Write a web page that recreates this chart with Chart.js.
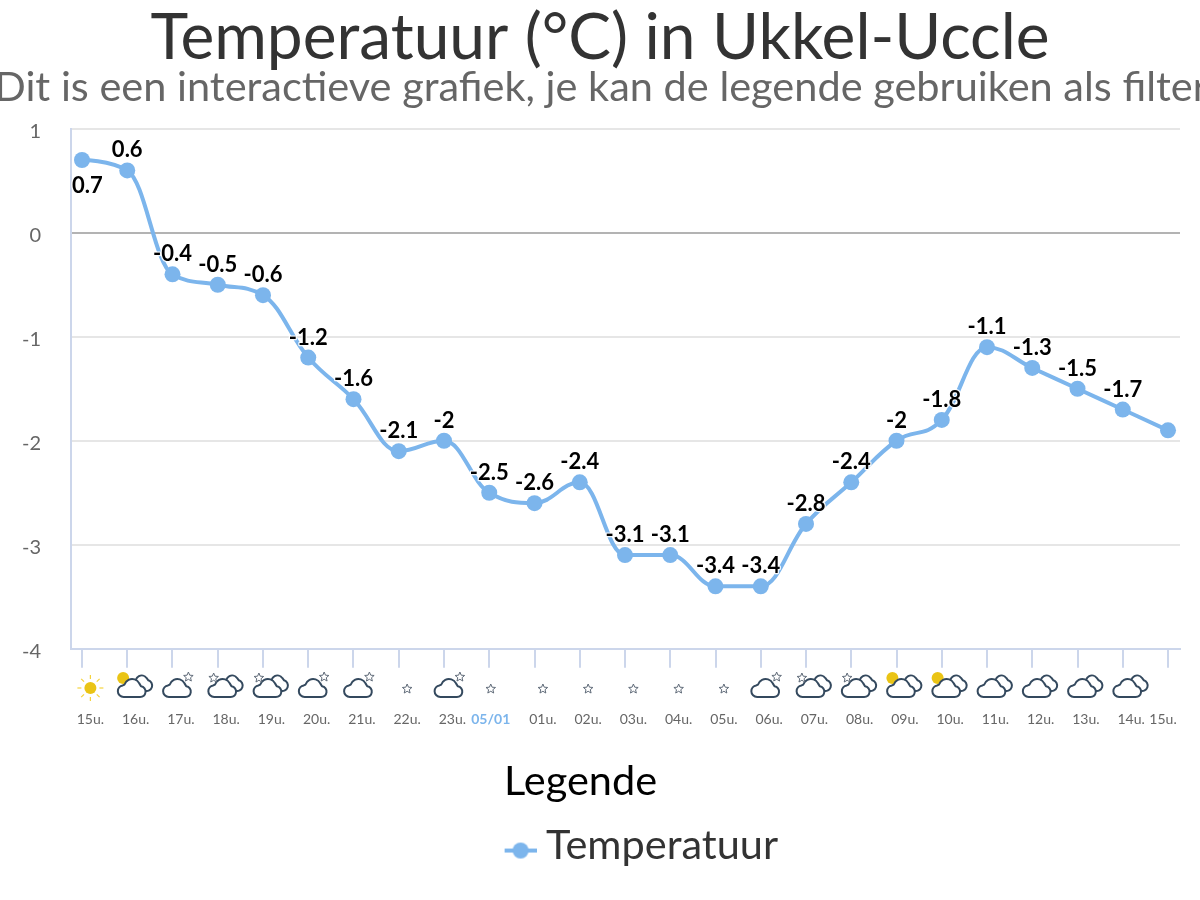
<!DOCTYPE html>
<html><head><meta charset="utf-8">
<style>html,body{margin:0;padding:0;background:#fff}canvas{display:block}</style>
<script src="https://cdn.jsdelivr.net/npm/chart.js@4"></script>
</head><body><canvas id="c" width="1200" height="900"></canvas>
<script>
const hours = ["15u.","16u.","17u.","18u.","19u.","20u.","21u.","22u.","23u.","05/01","01u.","02u.","03u.","04u.","05u.","06u.","07u.","08u.","09u.","10u.","11u.","12u.","13u.","14u.","15u."];
const temps = [0.7,0.6,-0.4,-0.5,-0.6,-1.2,-1.6,-2.1,-2,-2.5,-2.6,-2.4,-3.1,-3.1,-3.4,-3.4,-2.8,-2.4,-2,-1.8,-1.1,-1.3,-1.5,-1.7,-1.9];
const weather = ["zon","zonwolken","wolkster","sterwolken","sterwolken","wolkster","wolkster","ster","wolkster","ster","ster","ster","ster","ster","ster","wolkster","sterwolken","sterwolken","zonwolken","zonwolken","wolken","wolken","wolken","wolken",""];
const yTicks = [1,0,-1,-2,-3,-4];
const titleText = "Temperatuur (°C) in Ukkel-Uccle";
const subtitleText = "Dit is een interactieve grafiek, je kan de legende gebruiken als filter";
const seriesName = "Temperatuur";
const legendTitle = "Legende";

const FONT = "Lato";
const BLUE = "#7cb5ec";
const AXIS = "#ccd6eb";

const marker = document.createElement("canvas");
marker.width = 44; marker.height = 28;
(function(){const m=marker.getContext("2d");m.fillStyle=BLUE;m.fillRect(12,17,32,4);m.beginPath();m.arc(28,19,8,0,Math.PI*2);m.fill();})();

function labelShift(i){
  if (hours[i].includes("/")) return 1.5;
  if (i === hours.length-1) return -5;
  return 8.4;
}
function star(ctx,x,y,r){
  ctx.beginPath();
  for(let k=0;k<10;k++){const a=-Math.PI/2+k*Math.PI/5,q=k%2?r*0.45:r;const px=x+q*Math.cos(a),py=y+q*Math.sin(a);k?ctx.lineTo(px,py):ctx.moveTo(px,py);}
  ctx.closePath();ctx.fillStyle="#fff";ctx.fill();ctx.strokeStyle="#5f6a78";ctx.lineWidth=1;ctx.stroke();
}
function cloud(ctx,x,y){
  ctx.beginPath();
  ctx.moveTo(x-8,y+9);
  ctx.arc(x-8,y+3.2,5.8,Math.PI/2,Math.PI*1.45);
  ctx.arc(x+0.5,y-1,8,Math.PI*1.1,Math.PI*1.85);
  ctx.arc(x+8.5,y+3.6,5.4,-Math.PI*0.45,Math.PI/2);
  ctx.closePath();ctx.fillStyle="#fff";ctx.fill();ctx.strokeStyle="#34495e";ctx.lineWidth=2;ctx.stroke();
}
function backCloud(ctx,x,y){
  ctx.beginPath();
  ctx.arc(x+10,y-6.5,6,Math.PI*0.85,Math.PI*1.8);
  ctx.arc(x+15,y-2.5,5.5,-Math.PI*0.4,Math.PI*0.6);
  ctx.lineTo(x+8,y+3);
  ctx.closePath();ctx.fillStyle="#fff";ctx.fill();ctx.strokeStyle="#34495e";ctx.lineWidth=2;ctx.stroke();
}
function sun(ctx,x,y,r){
  ctx.beginPath();ctx.arc(x,y,r,0,Math.PI*2);ctx.fillStyle="#eac415";ctx.fill();
}
function drawIcon(ctx,kind,cx){
  const cy=688;
  if(kind==="zon"){
    sun(ctx,cx,cy,6);ctx.strokeStyle="#f5d33c";ctx.lineWidth=1.2;
    for(let k=0;k<8;k++){const a=k*Math.PI/4;ctx.beginPath();ctx.moveTo(cx+9*Math.cos(a),cy+9*Math.sin(a));ctx.lineTo(cx+13*Math.cos(a),cy+13*Math.sin(a));ctx.stroke();}
  } else if(kind==="ster"){ star(ctx,cx,cy+1,5);
  } else if(kind==="wolkster"){ cloud(ctx,cx-4,cy); star(ctx,cx+7.5,cy-11,5);
  } else if(kind==="wolken"){ backCloud(ctx,cx-4,cy); cloud(ctx,cx-4,cy);
  } else if(kind==="zonwolken"){ sun(ctx,cx-12.5,cy-10,6); backCloud(ctx,cx-4,cy); cloud(ctx,cx-4,cy);
  } else if(kind==="sterwolken"){ backCloud(ctx,cx-4,cy); cloud(ctx,cx-4,cy); star(ctx,cx-12.5,cy-10,5);
  }
}

const sketch = {
  id:"sketch",
  afterLayout(chart){
    const lg=chart.legend;
    const w=lg.width;
    lg.left=504; lg.right=504+w;
    lg.top=761; lg.bottom=lg.top+lg.height;
    chart.titleBlock.left=0; chart.titleBlock.right=1200;
  },
  beforeDatasetsDraw(chart){
    // smooth line: control points set from neighbouring points
    const line=chart.getDatasetMeta(0).dataset;
    line.updateControlPoints(chart.chartArea,"x");
    const pts=line.points, S=1.5, D=2.5;
    pts.forEach((p,i)=>{
      const a=pts[i-1], b=pts[i+1];
      if(!a||!b){p.cp1x=p.x;p.cp1y=p.y;p.cp2x=p.x;p.cp2y=p.y;return;}
      const lx=(S*p.x+a.x)/D; let ly=(S*p.y+a.y)/D;
      const rx=(S*p.x+b.x)/D; let ry=(S*p.y+b.y)/D;
      const c=((ry-ly)*(rx-p.x))/(rx-lx)+p.y-ry;
      ly+=c; ry+=c;
      if(ly>a.y&&ly>p.y){ly=Math.max(a.y,p.y);ry=2*p.y-ly;}
      else if(ly<a.y&&ly<p.y){ly=Math.min(a.y,p.y);ry=2*p.y-ly;}
      if(ry>b.y&&ry>p.y){ry=Math.max(b.y,p.y);ly=2*p.y-ry;}
      else if(ry<b.y&&ry<p.y){ry=Math.min(b.y,p.y);ly=2*p.y-ry;}
      p.cp1x=lx;p.cp1y=ly;p.cp2x=rx;p.cp2y=ry;
    });
  },
  beforeDraw(chart){
    const x=chart.scales.x, items=x.getLabelItems();
    items.forEach((it,i)=>{it.options.translation[0]=x.getPixelForTick(i)+labelShift(i);});
  },
  afterDraw(chart){
    const ctx=chart.ctx, x=chart.scales.x, y=chart.scales.y;
    ctx.save();
    // subtitle
    ctx.font="41.5px "+FONT;ctx.fillStyle="#666666";ctx.textAlign="center";ctx.textBaseline="middle";
    ctx.fillText(subtitleText,601,88);
    // data labels
    ctx.font="bold 22px "+FONT;ctx.lineJoin="round";
    temps.forEach((v,i)=>{
      if(i===temps.length-1) return;
      const px=x.getPixelForValue(i), py=y.getPixelForValue(v);
      const t=String(v), w=ctx.measureText(t).width;
      let lx=Math.max(px,chart.chartArea.left+1+w/2);
      let ly=py-20;
      if(ly-13<chart.chartArea.top) ly=py+26;
      ctx.strokeStyle="rgba(255,255,255,0.9)";ctx.lineWidth=2.5;ctx.strokeText(t,lx,ly);
      ctx.fillStyle="#000000";ctx.fillText(t,lx,ly);
    });
    // weather icons
    weather.forEach((k,i)=>drawIcon(ctx,k,x.getPixelForValue(i)+labelShift(i)));
    ctx.restore();
  }
};

new Chart(document.getElementById("c"),{
  type:"line",
  plugins:[sketch],
  data:{
    labels:hours,
    datasets:[{
      label:seriesName,
      data:temps.map((v,i)=>({x:i,y:v})),
      borderColor:BLUE,backgroundColor:BLUE,borderWidth:4,
      pointRadius:8,pointHoverRadius:8,pointBackgroundColor:BLUE,pointBorderColor:BLUE,pointBorderWidth:0,
      tension:0.4,fill:false,clip:false
    }]
  },
  options:{
    responsive:false,animation:false,devicePixelRatio:1,
    layout:{padding:{left:0,right:20,top:0,bottom:36}},
    plugins:{
      tooltip:{enabled:false},
      title:{display:true,text:titleText,color:"#333333",font:{family:FONT,size:64,weight:"normal"},padding:{top:0,bottom:52}},
      legend:{display:true,position:"bottom",align:"start",
        title:{display:true,position:"start",text:legendTitle,color:"#000000",font:{family:FONT,size:41.5,weight:"normal"},padding:{top:0,bottom:14}},
        labels:{usePointStyle:true,pointStyle:marker,pointStyleWidth:21.25,color:"#333333",font:{family:FONT,size:41.5},padding:0}
      }
    },
    scales:{
      x:{type:"linear",min:-0.243,max:24.265,
        afterBuildTicks(s){s.ticks=hours.map((h,i)=>({value:i}));},
        afterFit(s){s.height=100;s.paddingLeft=0;s.paddingRight=0;},
        grid:{drawOnChartArea:false,drawTicks:true,tickLength:19,tickColor:AXIS,lineWidth:2,color:AXIS},
        border:{display:true,color:AXIS,width:2},
        ticks:{autoSkip:false,maxRotation:0,padding:43,
          callback:(v)=>hours[v],
          color:(c)=>hours[c.index]&&hours[c.index].includes("/")?BLUE:"#666666",
          font:(c)=>({family:FONT,size:14,weight:hours[c.index]&&hours[c.index].includes("/")?"bold":"normal"})}
      },
      y:{min:-4,max:1,
        afterBuildTicks(s){s.ticks=yTicks.map(v=>({value:v}));},
        afterFit(s){s.width=71;s.paddingTop=0;s.paddingBottom=0;},
        grid:{drawTicks:false,tickLength:0,lineWidth:2,color:(c)=>c.tick&&c.tick.value===0?"#b3b3b3":"#e6e6e6"},
        border:{display:true,color:AXIS,width:2},
        ticks:{padding:30,labelOffset:3,color:"#666666",font:{family:FONT,size:20},align:"center",crossAlign:"near"}
      }
    }
  }
});
</script></body></html>
